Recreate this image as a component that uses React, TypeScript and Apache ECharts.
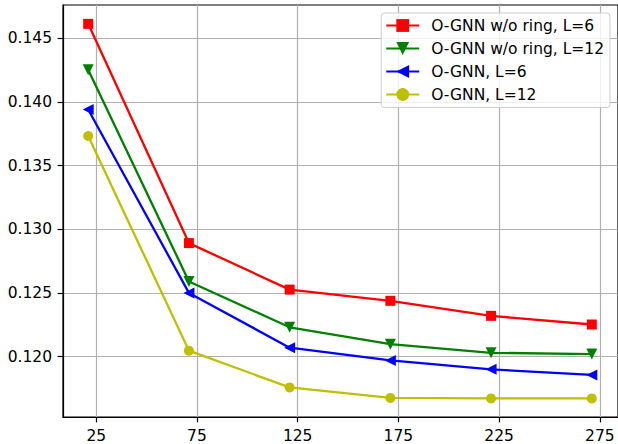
import React, { useEffect, useRef } from "react";
import * as echarts from "echarts";

const steps = [21, 71, 121, 171, 221, 271];
const xTicks = [25, 75, 125, 175, 225, 275];
const yTicks = [0.12, 0.125, 0.13, 0.135, 0.14, 0.145];

const seriesNames = [
  "O-GNN w/o ring, L=6",
  "O-GNN w/o ring, L=12",
  "O-GNN, L=6",
  "O-GNN, L=12",
];
const redVals = [0.14612, 0.12891, 0.12526, 0.12438, 0.1232, 0.12252];
const greenVals = [0.14252, 0.1259, 0.1223, 0.12098, 0.1203, 0.1202];
const blueVals = [0.1394, 0.125, 0.1207, 0.1197, 0.119, 0.11856];
const yellowVals = [0.13732, 0.12047, 0.11758, 0.11676, 0.11672, 0.11672];

const FONT = "DejaVu Sans";

export default function App() {
  const ref = useRef<HTMLDivElement>(null);
  useEffect(() => {
    if (!ref.current) return;
    const chart = echarts.init(ref.current, null, { renderer: "svg" });
    const mk = (
      name: string,
      vals: number[],
      color: string,
      symbol: string,
      size: number,
      rot: number
    ) => ({
      name,
      type: "line",
      data: steps.map((s, i) => [s, vals[i]]),
      symbol,
      symbolSize: size,
      symbolRotate: rot,
      showAllSymbol: true,
      lineStyle: { color, width: 2.3 },
      itemStyle: { color, borderWidth: 0 },
      emphasis: { disabled: true },
    });
    chart.setOption({
      animation: false,
      grid: {
        left: 63,
        right: -2,
        top: 5,
        bottom: 25,
        show: true,
        borderColor: "#000",
        borderWidth: 1.2,
        backgroundColor: "transparent",
      },
      legend: {
        orient: "vertical",
        top: 13,
        right: 8,
        padding: [4.5, 6, 5, 4],
        itemWidth: 33,
        itemHeight: 16,
        itemGap: 7,
        borderColor: "#cccccc",
        borderWidth: 1,
        borderRadius: 3,
        backgroundColor: "rgba(255,255,255,0.8)",
        textStyle: {
          fontFamily: FONT,
          fontSize: 15.5,
          color: "#000",
          lineHeight: 16,
          padding: [0, 0, 0, 7],
        },
        data: seriesNames,
      },
      xAxis: {
        type: "value",
        min: 8.5,
        max: 284,
        axisLine: { show: true, lineStyle: { color: "#000", width: 1.2 } },
        axisTick: {
          show: true,
          customValues: xTicks,
          length: 5.4,
          lineStyle: { color: "#000", width: 1.2 },
        },
        axisLabel: {
          customValues: xTicks,
          margin: 11,
          fontFamily: FONT,
          fontSize: 15.5,
          color: "#000",
        },
        splitLine: { show: true, lineStyle: { color: "#b0b0b0", width: 1.2 } },
      },
      yAxis: {
        type: "value",
        min: 0.11526,
        max: 0.1476,
        axisLine: { show: true, lineStyle: { color: "#000", width: 1.2 } },
        axisTick: {
          show: true,
          customValues: yTicks,
          length: 5.4,
          lineStyle: { color: "#000", width: 1.2 },
        },
        axisLabel: {
          customValues: yTicks,
          margin: 11,
          fontFamily: FONT,
          fontSize: 15.5,
          color: "#000",
          formatter: (v: number) => v.toFixed(3),
        },
        splitLine: { show: true, lineStyle: { color: "#b0b0b0", width: 1.2 } },
      },
      series: [
        mk(seriesNames[0], redVals, "#ff0000", "rect", 10, 0),
        mk(seriesNames[1], greenVals, "#008000", "triangle", 11, 180),
        mk(seriesNames[2], blueVals, "#0000ff", "triangle", 11, 90),
        mk(seriesNames[3], yellowVals, "#bfbf00", "circle", 10, 0),
      ],
    });
    return () => chart.dispose();
  }, []);
  return <div ref={ref} style={{ width: 618, height: 444, position: "absolute", left: 0, top: 0 }} />;
}
